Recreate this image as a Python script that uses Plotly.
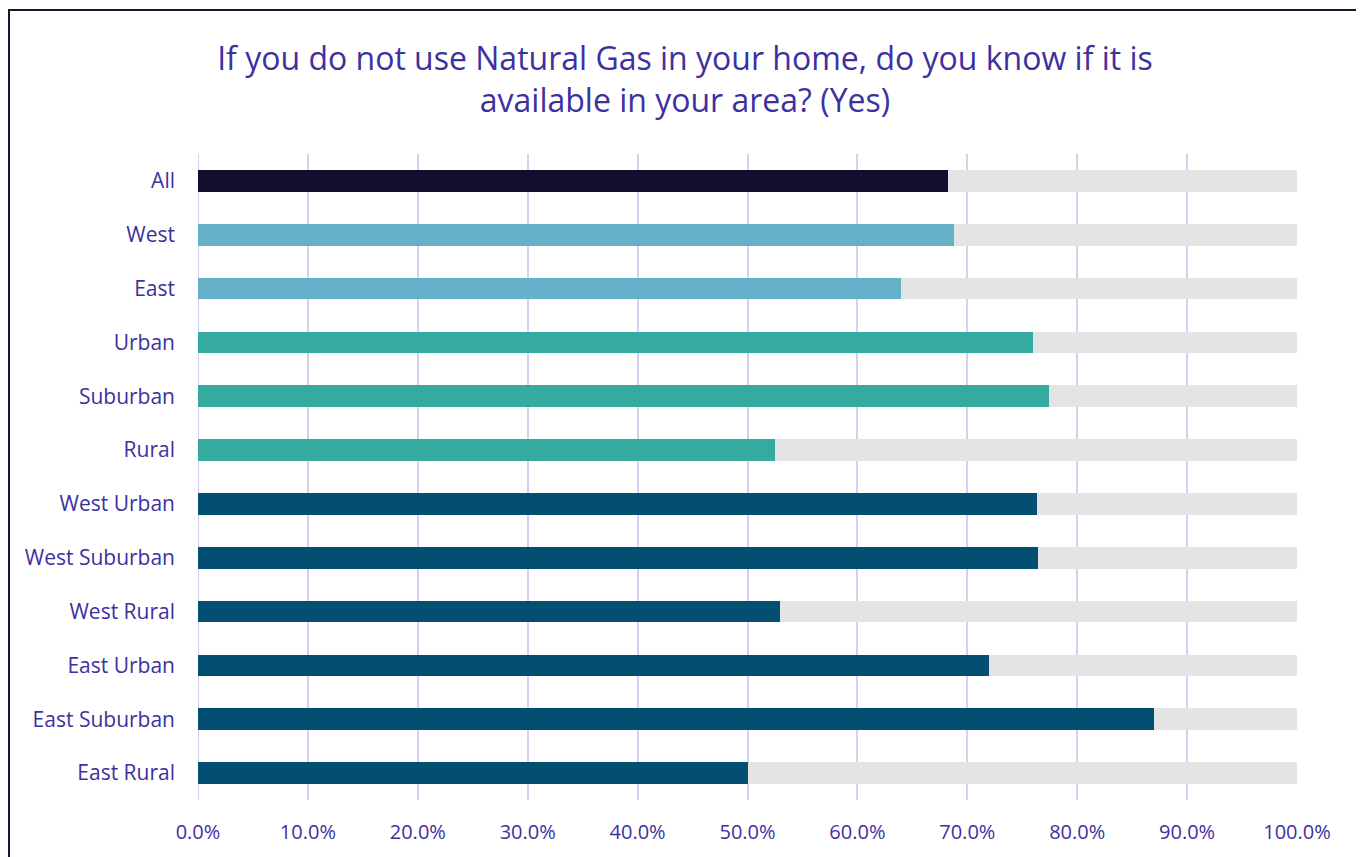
import plotly.graph_objects as go

categories = ["All", "West", "East", "Urban", "Suburban", "Rural",
              "West Urban", "West Suburban", "West Rural",
              "East Urban", "East Suburban", "East Rural"]
yes_pct = [68.2, 68.8, 64.0, 76.0, 77.4, 52.5,
           76.3, 76.4, 53.0, 72.0, 87.0, 50.0]
rest_pct = [100 - v for v in yes_pct]
bar_colors = ["#110e2e", "#65b1ca", "#65b1ca", "#35aaa1", "#35aaa1", "#35aaa1",
              "#024f72", "#024f72", "#024f72", "#024f72", "#024f72", "#024f72"]
tick_vals = [0, 10, 20, 30, 40, 50, 60, 70, 80, 90, 100]
tick_text = ["0.0%", "10.0%", "20.0%", "30.0%", "40.0%", "50.0%",
             "60.0%", "70.0%", "80.0%", "90.0%", "100.0%"]

txt = "#3d31a0"

# page body has an 8px margin, so figure coords are offset by 8px
W, H = 1356, 849
L, R, T, B = 190, 67, 146, 57
pw, ph = W - L - R, H - T - B

fig = go.Figure()
fig.add_trace(go.Bar(y=categories, x=yes_pct, orientation="h",
                     marker=dict(color=bar_colors, line=dict(width=0)), width=0.4))
fig.add_trace(go.Bar(y=categories, x=rest_pct, orientation="h",
                     marker=dict(color="#e4e4e4", line=dict(width=0)), width=0.4))

fig.update_layout(
    barmode="stack",
    width=W, height=H,
    margin=dict(l=L, r=R, t=T, b=B),
    paper_bgcolor="white", plot_bgcolor="white",
    showlegend=False,
    font=dict(family="Open Sans", color=txt),
    title=dict(text="If you do not use Natural Gas in your home, do you know if it is<br>available in your area? (Yes)",
               x=(685 - 8) / W, xanchor="center", y=1 - 62 / H, yanchor="middle",
               font=dict(size=32, color=txt)),
    xaxis=dict(range=[0, 100], tickvals=tick_vals, ticktext=tick_text,
               showgrid=True, gridcolor="#d6cff0", gridwidth=2,
               zeroline=False, showline=False,
               tickfont=dict(size=20, color=txt), ticklabelstandoff=18),
    yaxis=dict(categoryorder="array", categoryarray=categories, autorange="reversed",
               showgrid=False, zeroline=False, showline=False,
               tickfont=dict(size=21, color=txt), ticklabelstandoff=22),
)
# zero gridline
fig.add_shape(type="line", xref="x", yref="paper", x0=0, x1=0, y0=0, y1=1,
              line=dict(color="#d6cff0", width=2), layer="below")
# outer chart border
fig.add_shape(type="rect", xref="paper", yref="paper",
              x0=(1 - L) / pw, x1=(1352 - L) / pw,
              y0=-(B + 20) / ph, y1=(ph + T - 2) / ph,
              line=dict(color="#1a1530", width=2))

fig.write_html("out.html")
